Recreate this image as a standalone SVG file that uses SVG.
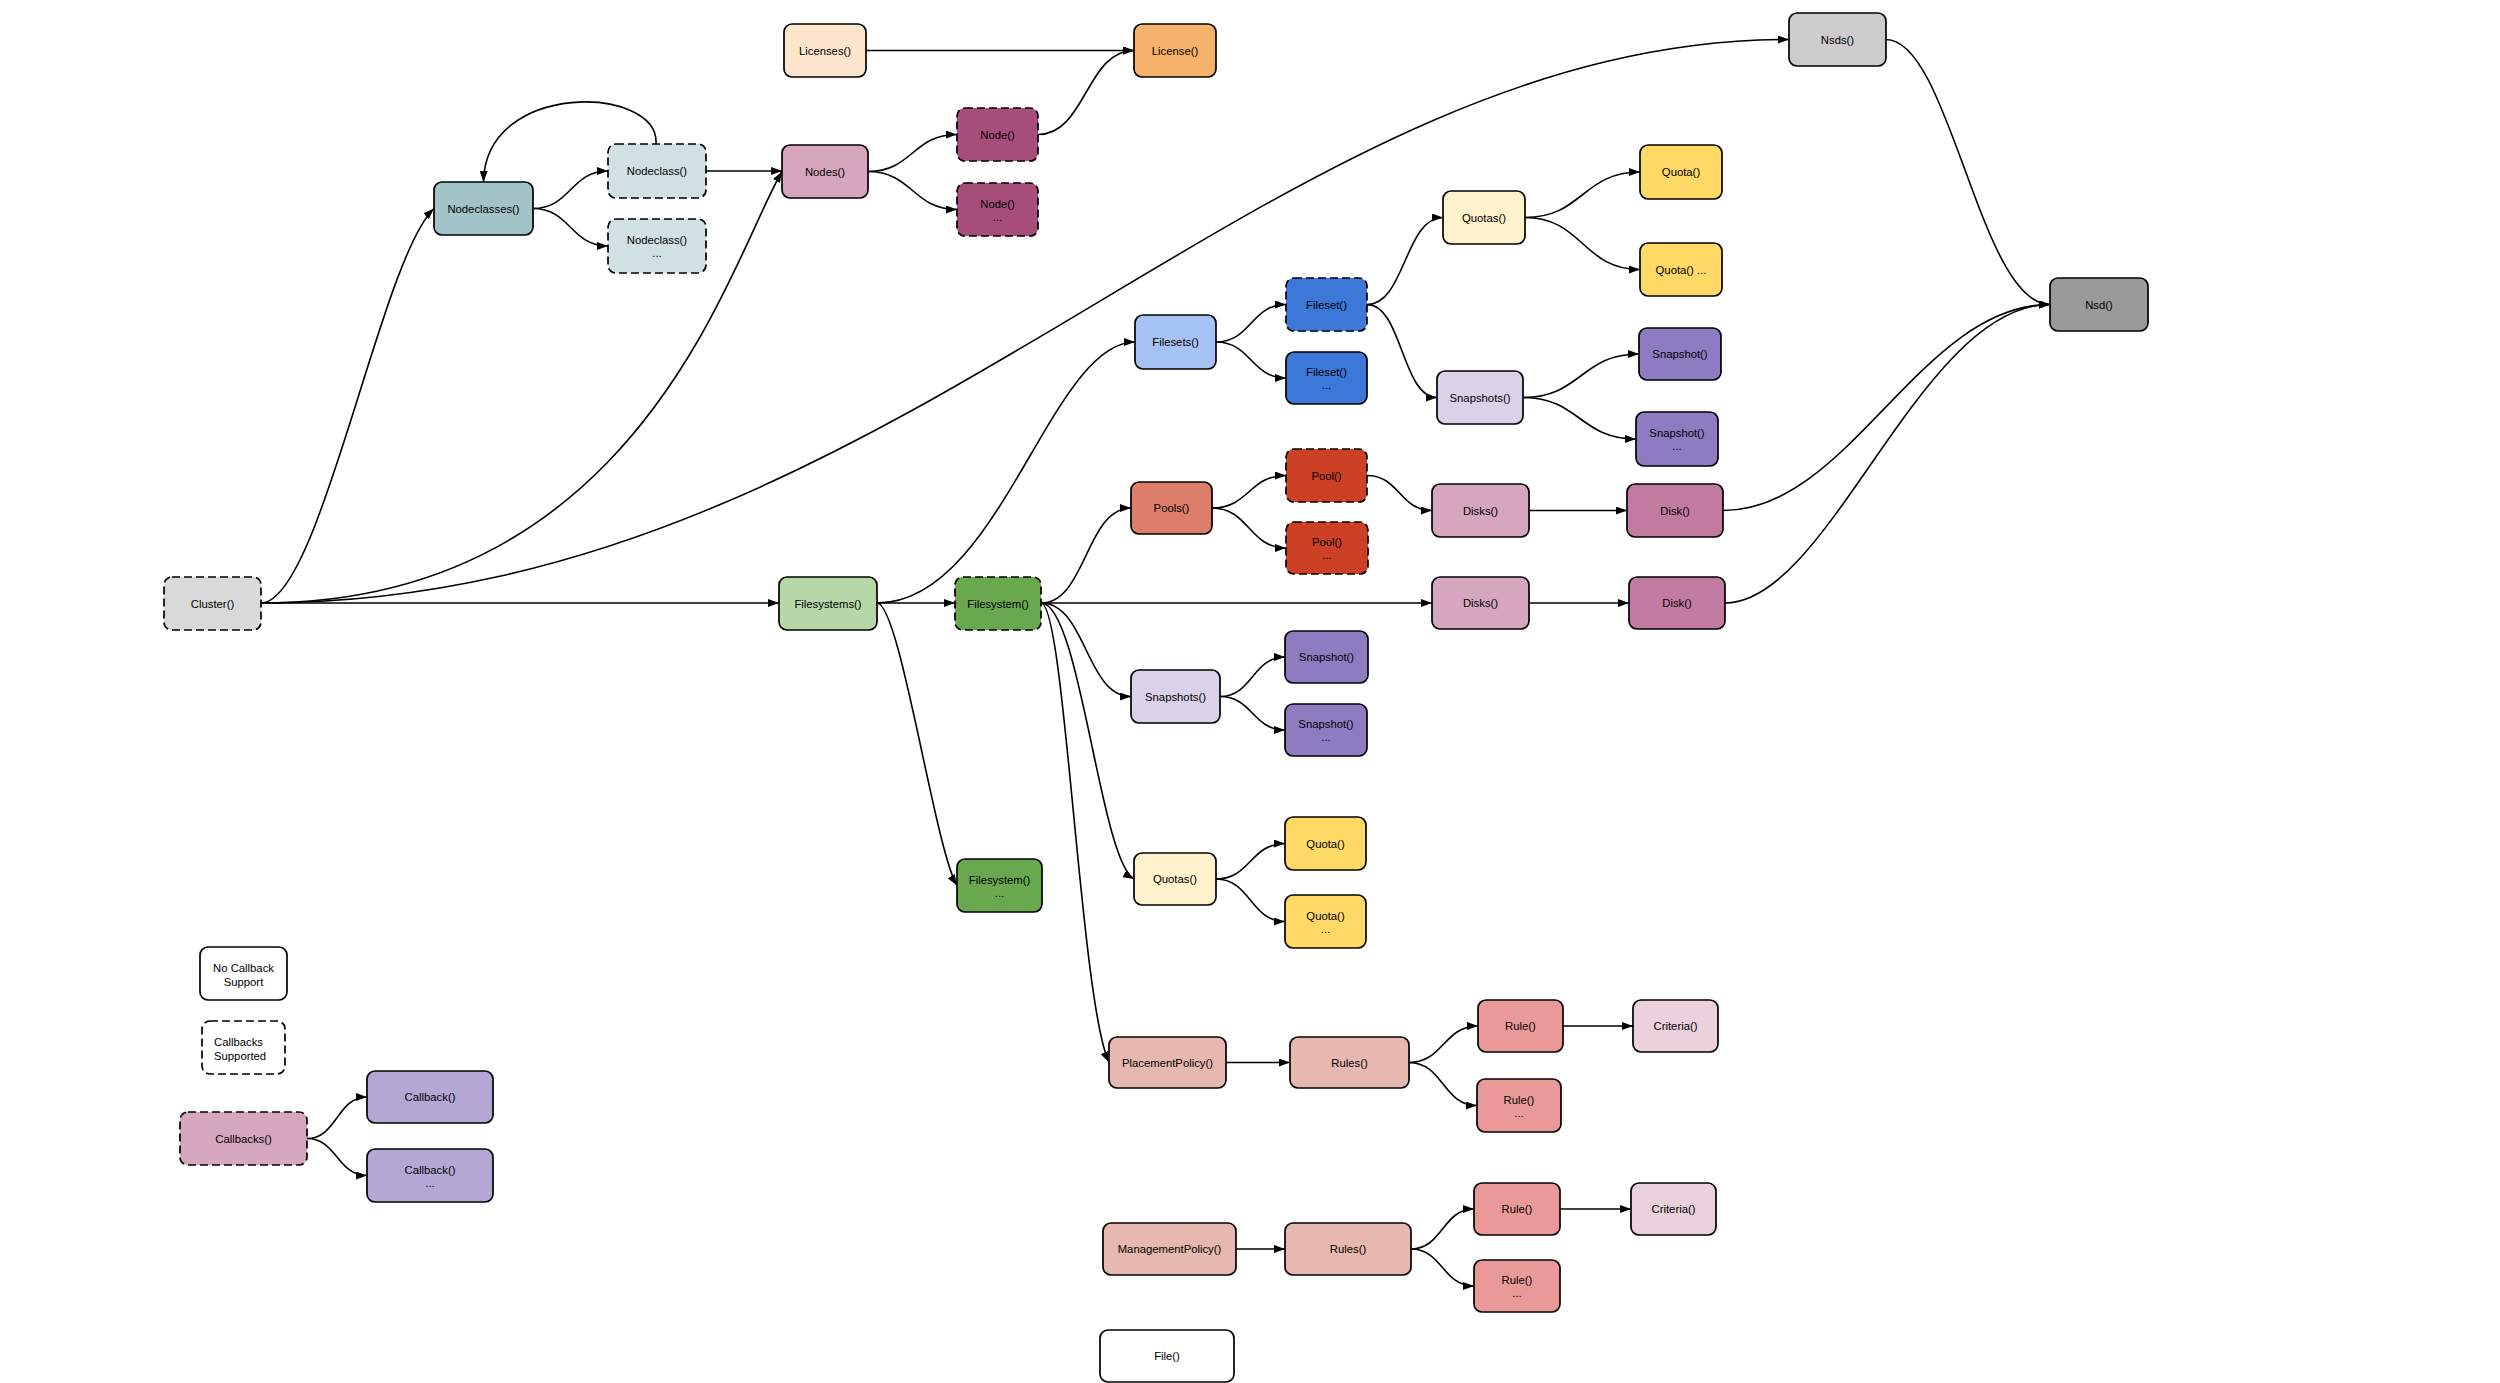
<svg xmlns="http://www.w3.org/2000/svg" width="2500" height="1383" viewBox="0 0 2500 1383">
<defs>
<style>
.n rect{stroke:#000;stroke-width:1.7}
.d rect{stroke-dasharray:8 4}
.n text{font-family:"Liberation Sans",Arial,sans-serif;font-size:11.3px;fill:#000;text-anchor:middle}
#edges path{fill:none;stroke:#000;stroke-width:1.6;marker-end:url(#arr)}
</style>
<marker id="arr" markerWidth="11" markerHeight="8" refX="11" refY="4" orient="auto" markerUnits="userSpaceOnUse"><path d="M0,0 L11,4 L0,8 z" fill="#000"/></marker>
</defs>
<rect width="2500" height="1383" fill="#fff"/>
<g id="edges">
<path d="M866,50.5 L1134,50.5"/>
<path d="M1038,134.5 C1086,134.5 1086,50.5 1134,50.5"/>
<path d="M533,208.5 C570.5,208.5 570.5,171 608,171"/>
<path d="M533,208.5 C570.5,208.5 570.5,246 608,246"/>
<path d="M656,144 C660,85 485,80 483.5,182"/>
<path d="M706,171 L782,171"/>
<path d="M868,171.5 C912.5,171.5 912.5,134.5 957,134.5"/>
<path d="M868,171.5 C912.5,171.5 912.5,209.5 957,209.5"/>
<path d="M261,603 C320,603 380,260 434,208.5"/>
<path d="M261,603 C640,603 730,260 782,171.5"/>
<path d="M261,603 C900,603 1260,39.5 1789,39.5"/>
<path d="M261,603 L779,603"/>
<path d="M877,603 L955,603"/>
<path d="M877,603 C1000,603 1050,342 1135,342"/>
<path d="M877,603 C900,603 935,850 957,885.5"/>
<path d="M1041,603 C1086,603 1086,508 1131,508"/>
<path d="M1041,603 L1432,603"/>
<path d="M1041,603 C1086,603 1086,696.5 1131,696.5"/>
<path d="M1041,603 C1080,603 1100,860 1134,879"/>
<path d="M1041,603 C1065,603 1080,1000 1109,1062.5"/>
<path d="M1216,342 C1251,342 1251,304.5 1286,304.5"/>
<path d="M1216,342 C1251,342 1251,378 1286,378"/>
<path d="M1367,304.5 C1405,304.5 1405,217.5 1443,217.5"/>
<path d="M1367,304.5 C1402,304.5 1402,397.5 1437,397.5"/>
<path d="M1525,217.5 C1582.5,217.5 1582.5,172 1640,172"/>
<path d="M1525,217.5 C1582.5,217.5 1582.5,269.5 1640,269.5"/>
<path d="M1523,397.5 C1581,397.5 1581,354 1639,354"/>
<path d="M1523,397.5 C1579.5,397.5 1579.5,439 1636,439"/>
<path d="M1212,508 C1249,508 1249,475.5 1286,475.5"/>
<path d="M1212,508 C1249,508 1249,548 1286,548"/>
<path d="M1367,475.5 C1399.5,475.5 1399.5,510.5 1432,510.5"/>
<path d="M1529,510.5 L1627,510.5"/>
<path d="M1529,603 L1629,603"/>
<path d="M1723,510.5 C1850,510.5 1920,304.5 2050,304.5"/>
<path d="M1725,603 C1830,603 1920,304.5 2050,304.5"/>
<path d="M1886,39.5 C1950,39.5 1980,304.5 2050,304.5"/>
<path d="M1220,696.5 C1252.5,696.5 1252.5,657 1285,657"/>
<path d="M1220,696.5 C1252.5,696.5 1252.5,730 1285,730"/>
<path d="M1216,879 C1250.5,879 1250.5,843.5 1285,843.5"/>
<path d="M1216,879 C1250.5,879 1250.5,921.5 1285,921.5"/>
<path d="M1226,1062.5 L1290,1062.5"/>
<path d="M1409,1062.5 C1443.5,1062.5 1443.5,1026 1478,1026"/>
<path d="M1409,1062.5 C1443,1062.5 1443,1105.5 1477,1105.5"/>
<path d="M1563,1026 L1633,1026"/>
<path d="M1236,1249 L1285,1249"/>
<path d="M1411,1249 C1442.5,1249 1442.5,1209 1474,1209"/>
<path d="M1411,1249 C1442.5,1249 1442.5,1286 1474,1286"/>
<path d="M1560,1209 L1631,1209"/>
<path d="M307,1138.5 C337,1138.5 337,1097 367,1097"/>
<path d="M307,1138.5 C337,1138.5 337,1175.5 367,1175.5"/>
</g>
<g id="licenses" class="n"><rect x="784" y="24" width="82" height="53" rx="8" fill="#fce5cd"/><text x="825" y="54.5">Licenses()</text></g>
<g id="license" class="n"><rect x="1134" y="24" width="82" height="53" rx="8" fill="#f6b26b"/><text x="1175" y="54.5">License()</text></g>
<g id="nsds" class="n"><rect x="1789" y="13" width="97" height="53" rx="8" fill="#cccccc"/><text x="1837.5" y="43.5">Nsds()</text></g>
<g id="nsd" class="n"><rect x="2050" y="278" width="98" height="53" rx="8" fill="#999999"/><text x="2099" y="308.5">Nsd()</text></g>
<g id="nodeclasses" class="n"><rect x="434" y="182" width="99" height="53" rx="8" fill="#a2c4c9"/><text x="483.5" y="212.5">Nodeclasses()</text></g>
<g id="nodeclass1" class="n d"><rect x="608" y="144" width="98" height="54" rx="8" fill="#d0e0e3"/><text x="657" y="175">Nodeclass()</text></g>
<g id="nodeclass2" class="n d"><rect x="608" y="219" width="98" height="54" rx="8" fill="#d0e0e3"/><text x="657" y="244">Nodeclass()</text><text x="657" y="257">...</text></g>
<g id="nodes" class="n"><rect x="782" y="145" width="86" height="53" rx="8" fill="#d5a6bd"/><text x="825" y="175.5">Nodes()</text></g>
<g id="node1" class="n d"><rect x="957" y="108" width="81" height="53" rx="8" fill="#a64d79"/><text x="997.5" y="138.5">Node()</text></g>
<g id="node2" class="n d"><rect x="957" y="183" width="81" height="53" rx="8" fill="#a64d79"/><text x="997.5" y="207.5">Node()</text><text x="997.5" y="220.5">...</text></g>
<g id="quotas-fs" class="n"><rect x="1443" y="191" width="82" height="53" rx="8" fill="#fff2cc"/><text x="1484" y="221.5">Quotas()</text></g>
<g id="quota-fs1" class="n"><rect x="1640" y="145" width="82" height="54" rx="8" fill="#ffd966"/><text x="1681" y="176">Quota()</text></g>
<g id="quota-fs2" class="n"><rect x="1640" y="243" width="82" height="53" rx="8" fill="#ffd966"/><text x="1681" y="273.5">Quota() ...</text></g>
<g id="fileset1" class="n d"><rect x="1286" y="278" width="81" height="53" rx="8" fill="#3c78d8"/><text x="1326.5" y="308.5">Fileset()</text></g>
<g id="fileset2" class="n"><rect x="1286" y="352" width="81" height="52" rx="8" fill="#3c78d8"/><text x="1326.5" y="376">Fileset()</text><text x="1326.5" y="389">...</text></g>
<g id="filesets" class="n"><rect x="1135" y="315" width="81" height="54" rx="8" fill="#a4c2f4"/><text x="1175.5" y="346">Filesets()</text></g>
<g id="snapshots-fs" class="n"><rect x="1437" y="371" width="86" height="53" rx="8" fill="#d9d2e9"/><text x="1480" y="401.5">Snapshots()</text></g>
<g id="snapshot-fs1" class="n"><rect x="1639" y="328" width="82" height="52" rx="8" fill="#8e7cc3"/><text x="1680" y="358">Snapshot()</text></g>
<g id="snapshot-fs2" class="n"><rect x="1636" y="412" width="82" height="54" rx="8" fill="#8e7cc3"/><text x="1677" y="437">Snapshot()</text><text x="1677" y="450">...</text></g>
<g id="pools" class="n"><rect x="1131" y="482" width="81" height="52" rx="8" fill="#dd7e6b"/><text x="1171.5" y="512">Pools()</text></g>
<g id="pool1" class="n d"><rect x="1286" y="449" width="81" height="53" rx="8" fill="#cc4125"/><text x="1326.5" y="479.5">Pool()</text></g>
<g id="pool2" class="n d"><rect x="1286" y="522" width="82" height="52" rx="8" fill="#cc4125"/><text x="1327" y="546">Pool()</text><text x="1327" y="559">...</text></g>
<g id="disks-pool" class="n"><rect x="1432" y="484" width="97" height="53" rx="8" fill="#d5a6bd"/><text x="1480.5" y="514.5">Disks()</text></g>
<g id="disk-pool" class="n"><rect x="1627" y="484" width="96" height="53" rx="8" fill="#c27ba0"/><text x="1675" y="514.5">Disk()</text></g>
<g id="cluster" class="n d"><rect x="164" y="577" width="97" height="53" rx="8" fill="#d9d9d9"/><text x="212.5" y="607.5">Cluster()</text></g>
<g id="filesystems" class="n"><rect x="779" y="577" width="98" height="53" rx="8" fill="#b6d7a8"/><text x="828" y="607.5">Filesystems()</text></g>
<g id="filesystem1" class="n d"><rect x="955" y="577" width="86" height="53" rx="8" fill="#6aa84f"/><text x="998" y="607.5">Filesystem()</text></g>
<g id="disks" class="n"><rect x="1432" y="577" width="97" height="52" rx="8" fill="#d5a6bd"/><text x="1480.5" y="607">Disks()</text></g>
<g id="disk" class="n"><rect x="1629" y="577" width="96" height="52" rx="8" fill="#c27ba0"/><text x="1677" y="607">Disk()</text></g>
<g id="snapshots" class="n"><rect x="1131" y="670" width="89" height="53" rx="8" fill="#d9d2e9"/><text x="1175.5" y="700.5">Snapshots()</text></g>
<g id="snapshot1" class="n"><rect x="1285" y="631" width="83" height="52" rx="8" fill="#8e7cc3"/><text x="1326.5" y="661">Snapshot()</text></g>
<g id="snapshot2" class="n"><rect x="1285" y="704" width="82" height="52" rx="8" fill="#8e7cc3"/><text x="1326" y="728">Snapshot()</text><text x="1326" y="741">...</text></g>
<g id="quotas" class="n"><rect x="1134" y="853" width="82" height="52" rx="8" fill="#fff2cc"/><text x="1175" y="883">Quotas()</text></g>
<g id="quota1" class="n"><rect x="1285" y="817" width="81" height="53" rx="8" fill="#ffd966"/><text x="1325.5" y="847.5">Quota()</text></g>
<g id="quota2" class="n"><rect x="1285" y="895" width="81" height="53" rx="8" fill="#ffd966"/><text x="1325.5" y="919.5">Quota()</text><text x="1325.5" y="932.5">...</text></g>
<g id="filesystem2" class="n"><rect x="957" y="859" width="85" height="53" rx="8" fill="#6aa84f"/><text x="999.5" y="883.5">Filesystem()</text><text x="999.5" y="896.5">...</text></g>
<g id="placementpolicy" class="n"><rect x="1109" y="1037" width="117" height="51" rx="8" fill="#e6b8af"/><text x="1167.5" y="1066.5">PlacementPolicy()</text></g>
<g id="rules-p" class="n"><rect x="1290" y="1037" width="119" height="51" rx="8" fill="#e6b8af"/><text x="1349.5" y="1066.5">Rules()</text></g>
<g id="rule-p1" class="n"><rect x="1478" y="1000" width="85" height="52" rx="8" fill="#ea9999"/><text x="1520.5" y="1030">Rule()</text></g>
<g id="criteria-p" class="n"><rect x="1633" y="1000" width="85" height="52" rx="8" fill="#ead1dc"/><text x="1675.5" y="1030">Criteria()</text></g>
<g id="rule-p2" class="n"><rect x="1477" y="1079" width="84" height="53" rx="8" fill="#ea9999"/><text x="1519" y="1103.5">Rule()</text><text x="1519" y="1116.5">...</text></g>
<g id="managementpolicy" class="n"><rect x="1103" y="1223" width="133" height="52" rx="8" fill="#e6b8af"/><text x="1169.5" y="1253">ManagementPolicy()</text></g>
<g id="rules-m" class="n"><rect x="1285" y="1223" width="126" height="52" rx="8" fill="#e6b8af"/><text x="1348" y="1253">Rules()</text></g>
<g id="rule-m1" class="n"><rect x="1474" y="1183" width="86" height="52" rx="8" fill="#ea9999"/><text x="1517" y="1213">Rule()</text></g>
<g id="criteria-m" class="n"><rect x="1631" y="1183" width="85" height="52" rx="8" fill="#ead1dc"/><text x="1673.5" y="1213">Criteria()</text></g>
<g id="rule-m2" class="n"><rect x="1474" y="1260" width="86" height="52" rx="8" fill="#ea9999"/><text x="1517" y="1284">Rule()</text><text x="1517" y="1297">...</text></g>
<g id="file" class="n"><rect x="1100" y="1330" width="134" height="52" rx="8" fill="#ffffff"/><text x="1167" y="1360">File()</text></g>
<g id="legend-nocb" class="n"><rect x="200" y="947" width="87" height="53" rx="8" fill="#ffffff"/><text x="243.5" y="971.5">No Callback</text><text x="243.5" y="985.5">Support</text></g>
<g id="legend-cb" class="n d"><rect x="202" y="1021" width="83" height="53" rx="8" fill="#ffffff"/><text x="214" y="1045.5" style="text-anchor:start">Callbacks</text><text x="214" y="1059.5" style="text-anchor:start">Supported</text></g>
<g id="callbacks" class="n d"><rect x="180" y="1112" width="127" height="53" rx="8" fill="#d5a6bd"/><text x="243.5" y="1142.5">Callbacks()</text></g>
<g id="callback1" class="n"><rect x="367" y="1071" width="126" height="52" rx="8" fill="#b4a7d6"/><text x="430" y="1101">Callback()</text></g>
<g id="callback2" class="n"><rect x="367" y="1149" width="126" height="53" rx="8" fill="#b4a7d6"/><text x="430" y="1173.5">Callback()</text><text x="430" y="1186.5">...</text></g>
</svg>
